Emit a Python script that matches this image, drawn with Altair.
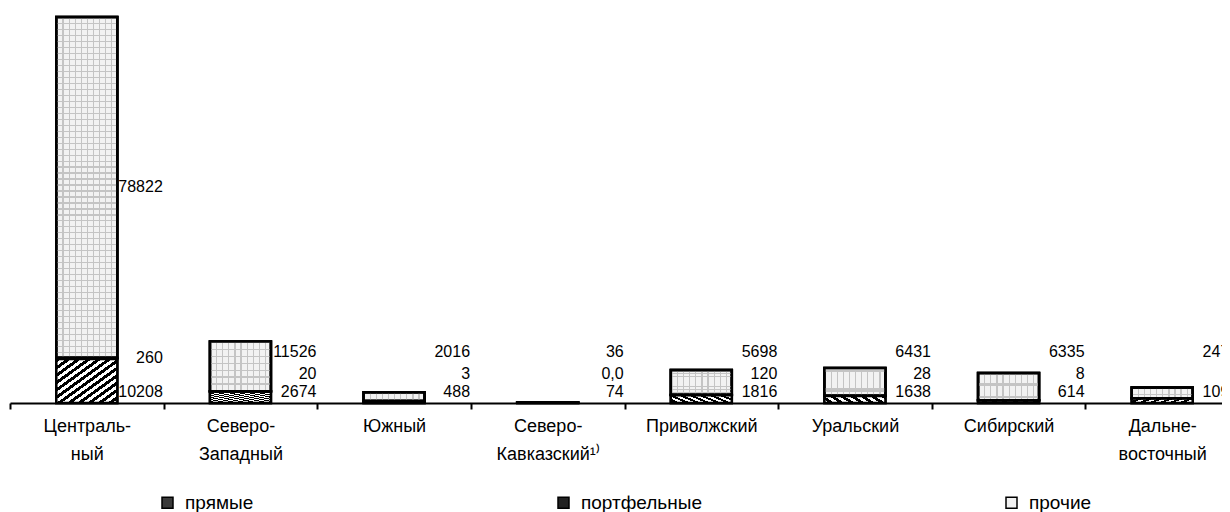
import altair as alt
import pandas as pd

REGIONS = ["Централь-\nный", "Северо-\nЗападный", "Южный", "Северо-\nКавказский¹⁾",
           "Приволжский", "Уральский", "Сибирский", "Дальне-\nвосточный"]
SERIES = ["прямые", "портфельные", "прочие"]
PRYAMYE = [10208, 2674, 488, 74, 1816, 1638, 614, 1098]
PORTF = [260, 20, 3, 0.0, 120, 28, 8, 2]
PROCHIE = [78822, 11526, 2016, 36, 5698, 6431, 6335, 2470]

rows = []
for i, r in enumerate(REGIONS):
    for k, (s, vals) in enumerate(zip(SERIES, [PRYAMYE, PORTF, PROCHIE])):
        v = vals[i]
        lab = "0,0" if v == 0 else f"{v:g}"
        rows.append({"region": r, "series": s, "k": k, "value": v, "label": lab})
df = pd.DataFrame(rows)

FONT = "Liberation Sans"


def stripes(n, frac, on, off, x2, y2):
    st = []
    for i in range(n):
        a, b, c = i / n, (i + frac) / n, (i + 1) / n
        st += [alt.GradientStop(color=on, offset=a), alt.GradientStop(color=on, offset=b),
               alt.GradientStop(color=off, offset=b), alt.GradientStop(color=off, offset=c)]
    return alt.LinearGradient(gradient="linear", stops=st, x1=0, y1=0, x2=x2, y2=y2)


hatch = stripes(12, 0.5, "black", "white", 1, 1)          # diagonal hatch (прямые)
grid_v = stripes(10, 0.2, "#c4c4c4", "rgba(255,255,255,0)", 1, 0)  # grid (прочие)
grid_h = stripes(57, 0.2, "#c4c4c4", "rgba(255,255,255,0)", 0, 1)

x_enc = alt.X("region:N", sort=REGIONS, title=None,
              scale=alt.Scale(domain=REGIONS, range=[0, 1229], paddingInner=0, paddingOuter=0),
              axis=alt.Axis(labelExpr="split(datum.label, '\\n')", labelAngle=0,
                            labelFont=FONT, labelFontSize=18, labelColor="black",
                            labelLineHeight=28, labelPadding=8, tickBand="extent",
                            domainColor="black", domainWidth=2, tickColor="black",
                            tickWidth=2, tickSize=6))
y_scale = alt.Scale(domain=[0, 90000])

base = alt.Chart(df).transform_stack(
    stack="value", as_=["y0", "y1"], groupby=["region"], sort=[alt.SortField("k")]
)

bars = base.mark_bar(size=61, stroke="black", strokeWidth=2.5).encode(
    x=x_enc,
    y=alt.Y("y0:Q", scale=y_scale, axis=None),
    y2="y1:Q",
    color=alt.Color("series:N", sort=SERIES,
                    scale=alt.Scale(domain=SERIES, range=["#3a3a3a", "#222222", "#f2f2f2"]),
                    legend=alt.Legend(title=None, orient="none", legendX=148, legendY=479,
                                      direction="horizontal", columns=3, columnPadding=300,
                                      symbolType="square", symbolSize=121,
                                      symbolStrokeColor="black", symbolStrokeWidth=1.5,
                                      labelFont=FONT, labelFontSize=19, labelColor="black",
                                      labelOffset=8, padding=0)),
)


def overlay(k, fill):
    return base.transform_filter(alt.datum.k == k).mark_bar(
        size=61, stroke="black", strokeWidth=2.5, fill=fill
    ).encode(x=alt.X("region:N", sort=REGIONS), y=alt.Y("y0:Q", scale=y_scale), y2="y1:Q")


labels = base.transform_calculate(
    ly="datum.k == 0 ? 2545 : max((datum.y0 + datum.y1) / 2, datum.k == 1 ? 6710 : 11800)"
).mark_text(align="right", baseline="middle", dx=76, font=FONT, fontSize=16, color="black").encode(
    x=alt.X("region:N", sort=REGIONS),
    y=alt.Y("ly:Q", scale=y_scale),
    text="label:N",
)

chart = alt.layer(bars, overlay(0, hatch), overlay(2, grid_v), overlay(2, grid_h), labels).properties(
    width=1212, height=389,
    autosize=alt.AutoSizeParams(type="none"),
    padding={"left": 2, "top": 6, "right": 0, "bottom": 112},
).configure(background="white", view=alt.ViewConfig(stroke=None))

chart.save("out.html", embed_options={"renderer": "svg", "actions": False})
